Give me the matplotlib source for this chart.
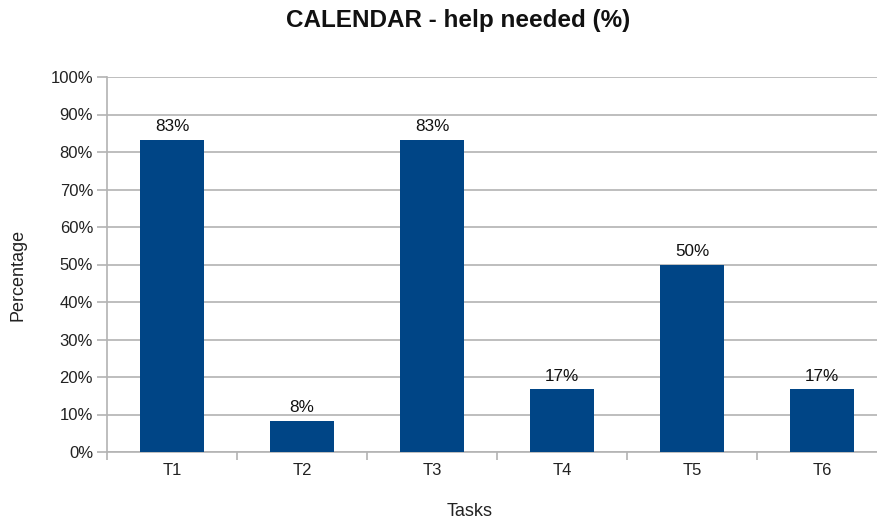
import matplotlib

matplotlib.use("Agg")
import matplotlib.pyplot as plt

plt.rcParams["font.family"] = ["Liberation Sans", "DejaVu Sans"]

tasks = ["T1", "T2", "T3", "T4", "T5", "T6"]
help_needed = [83.33, 8.33, 83.33, 16.67, 50.0, 16.67]
value_labels = ["83%", "8%", "83%", "17%", "50%", "17%"]
yticks = list(range(0, 101, 10))
ytick_labels = [f"{v}%" for v in yticks]

W, H = 877, 522
fig = plt.figure(figsize=(W / 100, H / 100), dpi=100)
# plot area runs a little past the right edge, as in the original export
ax = fig.add_axes([107 / W, (H - 452) / H, 780 / W, 375 / H])

grid_c = "#b3b3b3"
x = range(len(tasks))
ax.bar(x, help_needed, width=0.49, color="#004586", zorder=3)
for xi, v, lab in zip(x, help_needed, value_labels):
    ax.annotate(lab, (xi, v), xytext=(0, 4), textcoords="offset points",
                ha="center", va="bottom", fontsize=12.3, color="#111111")

ax.set_xlim(-0.5, len(tasks) - 0.5)
ax.set_ylim(0, 100)
ax.set_yticks(yticks)
ax.set_yticklabels(ytick_labels, fontsize=12, color="#222222")
ax.set_xticks(list(x))
ax.set_xticklabels(tasks, fontsize=12, color="#222222")
ax.tick_params(axis="x", length=0, pad=8)
ax.set_xticks([i + 0.5 for i in range(-1, len(tasks))], minor=True)
ax.tick_params(axis="x", which="minor", length=6, color=grid_c, width=1.2)
ax.tick_params(axis="y", length=7, color=grid_c, width=1.2, pad=3)
ax.yaxis.grid(True, color=grid_c, linewidth=1.2, zorder=0)
for side in ["top", "right"]:
    ax.spines[side].set_visible(False)
for side in ["left", "bottom"]:
    ax.spines[side].set_color(grid_c)
    ax.spines[side].set_linewidth(1.2)

fig.text(458 / W, 1 - 20 / H, "CALENDAR - help needed (%)", ha="center",
         va="center", fontsize=17.5, fontweight="bold", color="#111111")
fig.text(470 / W, 1 - 511 / H, "Tasks", ha="center", va="center",
         fontsize=13, color="#222222")
fig.text(18 / W, 1 - 275 / H, "Percentage", ha="center", va="center",
         rotation=90, fontsize=13, color="#222222")

fig.savefig("out.png", dpi=100)
